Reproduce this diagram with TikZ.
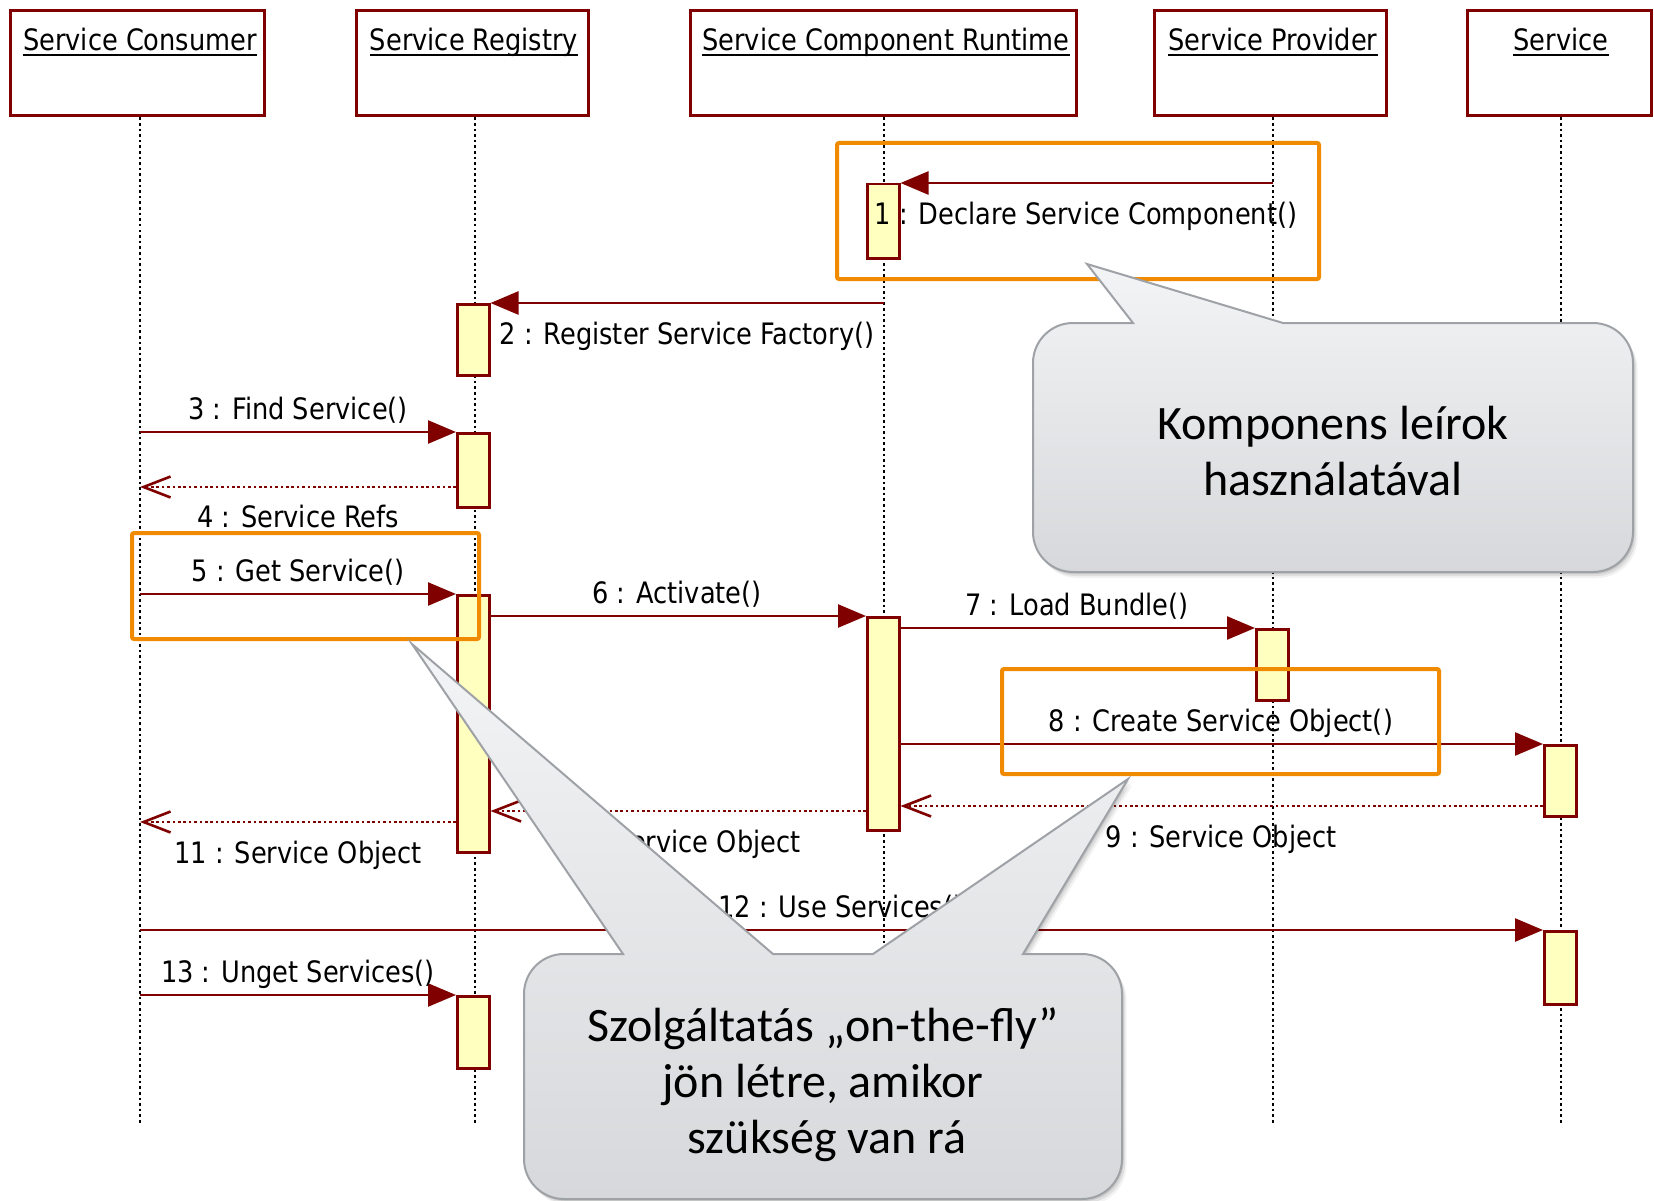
\documentclass[tikz,border=0pt]{standalone}
\usepackage{fontspec}
\setmainfont{DejaVu Sans}
\newfontfamily\lblfont{DejaVu Sans}[FakeStretch=0.87]
\newfontfamily\calfont{Carlito}
\usetikzlibrary{arrows.meta}
\definecolor{dred}{RGB}{128,0,0}
\definecolor{actfill}{RGB}{255,255,192}
\definecolor{orng}{RGB}{240,138,0}
\definecolor{cborder}{RGB}{158,162,166}
\definecolor{ctop}{RGB}{243,244,245}
\definecolor{cbot}{RGB}{214,216,219}
\newcommand\calloutApath{(1133,323) -- (1087,264) -- (1283,323) -- (1593,323) arc[start angle=90,end angle=0,radius=40pt] -- (1633,532) arc[start angle=0,end angle=-90,radius=40pt] -- (1073,572) arc[start angle=-90,end angle=-180,radius=40pt] -- (1033,363) arc[start angle=180,end angle=90,radius=40pt] -- cycle}
\newcommand\calloutBpath{(623,954) -- (412,644) -- (773,954) -- (873,954) -- (1128,779) -- (1023,954) -- (1082,954) arc[start angle=90,end angle=0,radius=40pt] -- (1122,1159) arc[start angle=0,end angle=-90,radius=40pt] -- (564,1199) arc[start angle=-90,end angle=-180,radius=40pt] -- (524,994) arc[start angle=180,end angle=90,radius=40pt] -- cycle}
\begin{document}
\begin{tikzpicture}[x=1pt,y=-1pt,
  hdr/.style={draw=dred, line width=3pt, fill=white, inner sep=0pt},
  hdrtext/.style={font=\lblfont\fontsize{29.5}{35}\selectfont, inner sep=0pt, anchor=base},
  lifeline/.style={line width=2.6pt, dash pattern=on 2.6pt off 3pt, black},
  act/.style={draw=dred, line width=2.5pt, fill=actfill, minimum width=32pt, inner sep=0pt, anchor=north west},
  msg/.style={draw=dred, line width=2.5pt, -{Triangle[length=28pt,width=23pt]}},
  ret/.style={draw=dred, line width=2.6pt, dash pattern=on 2.6pt off 2.8pt, -{Straight Barb[length=27pt,width=21pt]}},
  lbl/.style={font=\lblfont\fontsize{29.5}{35}\selectfont, inner sep=0pt, anchor=base},
  obox/.style={draw=orng, line width=4pt, rounded corners=2pt, inner sep=0pt},
  ctext/.style={font=\calfont\fontsize{48}{56}\selectfont, inner sep=0pt, anchor=base},
  cshape/.style={draw=cborder, line width=2pt, top color=ctop, bottom color=cbot},
  cshadow/.style={fill=black, opacity=#1},
]
\useasboundingbox[fill=white] (0,0) rectangle (1654,1201);

% header boxes
\node[hdr, minimum width=254pt, minimum height=105pt] (consumer) at (137,63.5) {};
\node[hdr, minimum width=232pt, minimum height=105pt] (registry) at (472,63.5) {};
\node[hdr, minimum width=386pt, minimum height=105pt] (runtime) at (883,63.5) {};
\node[hdr, minimum width=232pt, minimum height=105pt] (provider) at (1270,63.5) {};
\node[hdr, minimum width=184pt, minimum height=105pt] (service) at (1559,63.5) {};

\node[hdrtext] (tconsumer) at (140,51) {Service Consumer};
\node[hdrtext] (tregistry) at (474,51) {Service Registry};
\node[hdrtext] (truntime) at (886,51) {Service Component Runtime};
\node[hdrtext] (tprovider) at (1273,51) {Service Provider};
\node[hdrtext] (tservice) at (1561,51) {Service};
\foreach \t in {tconsumer,tregistry,truntime,tprovider,tservice}
  \draw[line width=2pt] ([yshift=-4.5pt]\t.base west) -- ([yshift=-4.5pt]\t.base east);

% lifelines
\coordinate (e1) at (140,1123);
\coordinate (e2) at (475,1123);
\coordinate (e3) at (884,1123);
\coordinate (e4) at (1273,1123);
\coordinate (e5) at (1561,1123);
\draw[lifeline] (e1 |- consumer.south) -- (e1);
\draw[lifeline] (e2 |- registry.south) -- (e2);
\draw[lifeline] (e3 |- runtime.south) -- (e3);
\draw[lifeline] (e4 |- provider.south) -- (e4);
\draw[lifeline] (e5 |- service.south) -- (e5);

% activations
\node[act, minimum height=74pt] (a1) at (866,183) {};
\node[act, minimum height=71pt] (a2) at (456,303) {};
\node[act, minimum height=74pt] (a3) at (456,432) {};
\node[act, minimum height=257pt] (a5) at (456,594) {};
\node[act, minimum height=213pt] (a6) at (866,616) {};
\node[act, minimum height=71pt] (a7) at (1255,628) {};
\node[act, minimum height=71pt] (a8) at (1543,744) {};
\node[act, minimum height=73pt] (a12) at (1543,930) {};
\node[act, minimum height=72pt] (a13) at (456,995) {};

% messages
\coordinate (m1) at (1273,183);
\coordinate (m2) at (884,303);
\coordinate (m3) at (140,432);
\coordinate (m4) at (140,487);
\coordinate (m5) at (140,594);
\coordinate (y9) at (0,806);
\coordinate (y10) at (0,811);
\coordinate (m11) at (140,822);
\coordinate (m12) at (140,930);
\coordinate (m13) at (140,995);
\draw[msg] (m1) -- (a1.north east);
\draw[msg] (m2) -- (a2.north east);
\draw[msg] (m3) -- (a3.north west);
\draw[ret] (a3.west |- m4) -- (m4);
\draw[msg] (m5) -- (a5.north west);
\draw[msg] (a5.east |- a6.north) -- (a6.north west);
\draw[msg] (a6.east |- a7.north) -- (a7.north west);
\draw[msg] (a6.east |- a8.north) -- (a8.north west);
\draw[ret] (a8.west |- y9) -- (a6.east |- y9);
\draw[ret] (a6.west |- y10) -- (a5.east |- y10);
\draw[ret] (a5.west |- m11) -- (m11);
\draw[msg] (m12) -- (a12.north west);
\draw[msg] (m13) -- (a13.north west);

% labels
\node[lbl] (l1) at (1086,225) {1 : Declare Service Component()};
\node[lbl] (l2) at (687,344) {2 : Register Service Factory()};
\node[lbl] (l3) at (298,419) {3 : Find Service()};
\node[lbl] (l4) at (298,527) {4 : Service Refs};
\node[lbl] (l5) at (298,581) {5 : Get Service()};
\node[lbl] (l6) at (677,603) {6 : Activate()};
\node[lbl] (l7) at (1077,615) {7 : Load Bundle()};
\node[lbl] (l8) at (1221,731) {8 : Create Service Object()};
\node[lbl] (l9) at (1221,847) {9 : Service Object};
\node[lbl] (l10) at (677,852) {10 : Service Object};
\node[lbl] (l11) at (298,863) {11 : Service Object};
\node[lbl] (l12) at (841,917) {12 : Use Services()};
\node[lbl] (l13) at (298,982) {13 : Unget Services()};

% orange highlight boxes
\node[obox, minimum width=482pt, minimum height=136pt] (o1) at (1078,211) {};
\node[obox, minimum width=347pt, minimum height=106pt] (o2) at (305.5,586) {};
\node[obox, minimum width=437pt, minimum height=105pt] (o3) at (1220.5,721.5) {};

% callouts
\foreach \s/\o in {{(1.5pt,-2pt)}/0.10,{(3pt,-4pt)}/0.08,{(4.5pt,-6pt)}/0.05}{
  \fill[cshadow=\o, shift=\s] \calloutApath;
  \fill[cshadow=\o, shift=\s] \calloutBpath;
}
\path[cshape] \calloutApath;
\path[cshape] \calloutBpath;

\node[ctext] (k1) at (1333,439) {Komponens leírok};
\node[ctext] (k2) at (1333,495) {használatával};
\node[ctext] (s1) at (823,1041) {Szolgáltatás „on-the-fly”};
\node[ctext] (s2) at (823,1097) {jön létre, amikor};
\node[ctext] (s3) at (827,1153) {szükség van rá};
\end{tikzpicture}
\end{document}
